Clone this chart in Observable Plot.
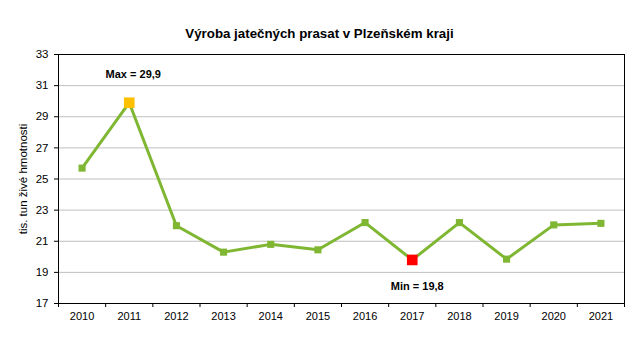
<!DOCTYPE html>
<html>
<head>
<meta charset="utf-8">
<script src="https://cdn.jsdelivr.net/npm/d3@7"></script>
<script src="https://cdn.jsdelivr.net/npm/@observablehq/plot@0.6"></script>
<style>
  html, body { margin: 0; padding: 0; background: #fff; }
  #wrap { position: relative; width: 639px; height: 360px; font-family: "Liberation Sans", Arial, sans-serif; }
  #title { position: absolute; left: 0; top: 26px; width: 639px; text-align: center; font-weight: bold; font-size: 13.3px; color: #000; }
  #chart { position: absolute; left: 0; top: 0; }
</style>
</head>
<body>
<div id="wrap">
  <div id="chart"></div>
  <div id="title">Výroba jatečných prasat v Plzeňském kraji</div>
</div>
<script>
const years = [2010, 2011, 2012, 2013, 2014, 2015, 2016, 2017, 2018, 2019, 2020, 2021];
const values = [25.7, 29.9, 22.0, 20.3, 20.8, 20.45, 22.2, 19.8, 22.2, 19.85, 22.05, 22.15];
const yTicks = [17, 19, 21, 23, 25, 27, 29, 31, 33];
const gridTicks = [19, 21, 23, 25, 27, 29, 31];
const yLabel = "tis. tun živé hmotnosti";

const data = years.map((y, i) => ({year: y, value: values[i]}));
const maxV = d3.max(values), minV = d3.min(values);
const maxD = data.filter(d => d.value === maxV);
const minD = data.filter(d => d.value === minV);
const bounds = [...years.map(y => y - 0.5), years[years.length - 1] + 0.5];
const fmt = v => String(v).replace(".", ",");

const plot = Plot.plot({
  width: 639,
  height: 360,
  marginTop: 54,
  marginBottom: 57,
  marginLeft: 58,
  marginRight: 15,
  style: {fontFamily: "Liberation Sans, Arial, sans-serif", fontSize: "11px", color: "#000", background: "#fff"},
  x: {type: "linear", domain: [bounds[0], bounds[bounds.length - 1]]},
  y: {domain: [17, 33]},
  marks: [
    Plot.gridY(gridTicks, {stroke: "#bfbfbf", strokeOpacity: 1, strokeWidth: 1}),
    Plot.frame({stroke: "#000", strokeWidth: 1}),
    Plot.axisY({ticks: yTicks, tickSize: 4, tickPadding: 6, tickFormat: d => String(d), fontSize: 11.5,
      label: yLabel, labelAnchor: "center", labelArrow: "none", labelOffset: 40}),
    Plot.axisX({ticks: bounds, tickSize: 4, tickFormat: () => "", label: null}),
    Plot.axisX({ticks: years, tickSize: 0, tickPadding: 9, tickFormat: d => String(d), fontSize: 11, label: null}),
    Plot.line(data, {x: "year", y: "value", stroke: "#7fb632", strokeWidth: 3}),
    Plot.dot(data, {x: "year", y: "value", symbol: "square", r: 4, fill: "#7fb632", stroke: "none"}),
    Plot.dot(maxD, {x: "year", y: "value", symbol: "square", r: 6, fill: "#ffc000", stroke: "none"}),
    Plot.dot(minD, {x: "year", y: "value", symbol: "square", r: 6, fill: "#ff0000", stroke: "none"}),
    Plot.text(maxD, {x: "year", y: "value", text: d => "Max = " + fmt(d.value), dy: -28, dx: 4, fontWeight: "bold", fontSize: 11, fill: "#000"}),
    Plot.text(minD, {x: "year", y: "value", text: d => "Min = " + fmt(d.value), dy: 27, dx: 5, fontWeight: "bold", fontSize: 11, fill: "#000"})
  ]
});
document.getElementById("chart").appendChild(plot);
</script>
</body>
</html>
